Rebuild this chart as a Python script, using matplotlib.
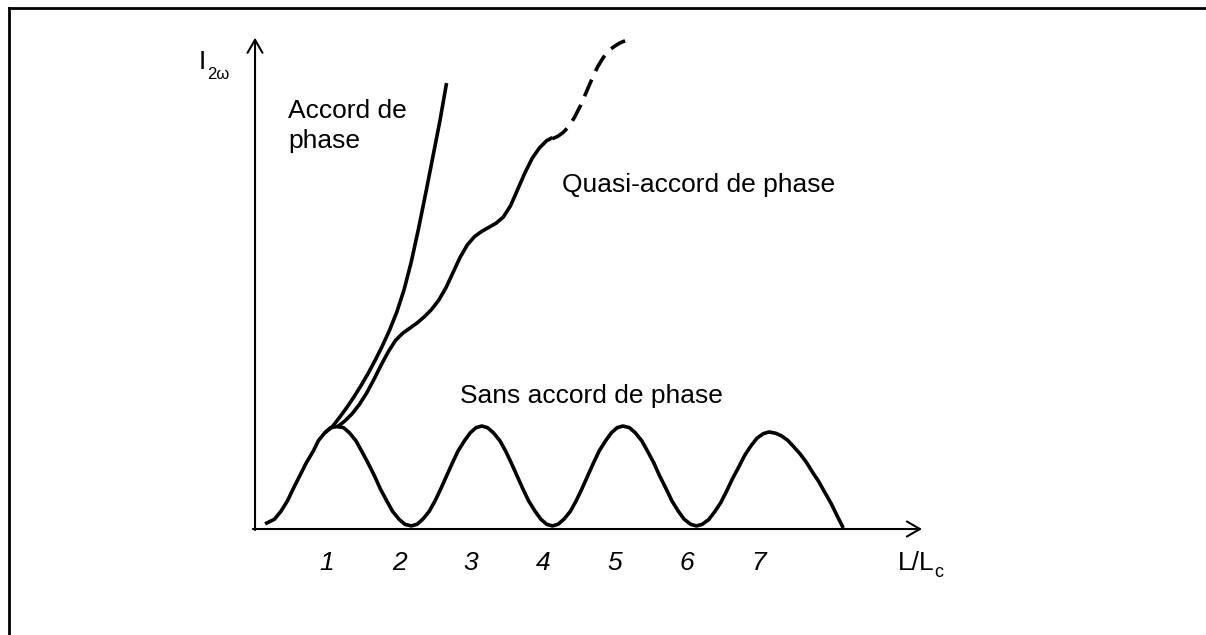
import matplotlib
matplotlib.use('Agg')
import matplotlib.pyplot as plt
from matplotlib.lines import Line2D

# ---------------- data ----------------
# Non phase-matched ("Sans accord de phase") oscillation
sinc_x = [0.14, 0.27, 0.36, 0.45, 0.53, 0.62, 0.71, 0.81, 0.88, 0.97, 1.05, 1.14,
          1.23, 1.31, 1.40, 1.48, 1.57, 1.66, 1.74, 1.83, 1.91, 2.00, 2.08, 2.17,
          2.25, 2.33, 2.42, 2.50, 2.58, 2.66, 2.74, 2.82, 2.91, 2.99, 3.07, 3.15,
          3.23, 3.31, 3.40, 3.48, 3.56, 3.64, 3.72, 3.80, 3.89, 3.97, 4.05, 4.13,
          4.21, 4.29, 4.38, 4.46, 4.54, 4.62, 4.70, 4.78, 4.87, 4.95, 5.03, 5.11,
          5.20, 5.28, 5.37, 5.45, 5.54, 5.62, 5.71, 5.79, 5.88, 5.96, 6.05, 6.13,
          6.21, 6.30, 6.38, 6.47, 6.55, 6.63, 6.72, 6.80, 6.89, 6.97, 7.06, 7.14,
          7.23, 7.31, 7.40, 7.48, 7.57, 7.66, 7.74, 7.83, 7.91, 8.00, 8.08, 8.17]
sinc_y = [0.05, 0.095, 0.172, 0.273, 0.39, 0.515, 0.64, 0.758, 0.858, 0.935, 0.984, 0.995,
          0.984, 0.935, 0.858, 0.758, 0.64, 0.515, 0.39, 0.273, 0.172, 0.095, 0.046, 0.03,
          0.046, 0.095, 0.172, 0.273, 0.39, 0.515, 0.64, 0.758, 0.858, 0.935, 0.984, 1.0,
          0.984, 0.935, 0.858, 0.758, 0.64, 0.515, 0.39, 0.273, 0.172, 0.095, 0.046, 0.03,
          0.046, 0.095, 0.172, 0.273, 0.39, 0.515, 0.64, 0.758, 0.858, 0.935, 0.984, 1.0,
          0.984, 0.935, 0.858, 0.758, 0.64, 0.515, 0.39, 0.273, 0.172, 0.095, 0.046, 0.03,
          0.045, 0.091, 0.163, 0.258, 0.368, 0.486, 0.604, 0.714, 0.809, 0.881, 0.926, 0.942,
          0.93, 0.905, 0.86, 0.80, 0.73, 0.645, 0.555, 0.46, 0.36, 0.25, 0.135, 0.01]

# Phase matched ("Accord de phase")
pm_x = [0.97, 1.07, 1.17, 1.27, 1.37, 1.47, 1.57, 1.67, 1.77, 1.87,
        1.97, 2.07, 2.17, 2.27, 2.37, 2.47, 2.57, 2.66]
pm_y = [0.935, 0.99, 1.08, 1.175, 1.278, 1.39, 1.51, 1.64, 1.78, 1.933,
        2.108, 2.323, 2.593, 2.913, 3.258, 3.613, 3.97, 4.33]

# Quasi phase matched ("Quasi-accord de phase"), solid part
qpm_x = [1.14, 1.25, 1.35, 1.45, 1.55, 1.65, 1.75, 1.85, 1.95, 2.05, 2.15,
         2.25, 2.35, 2.45, 2.55, 2.65, 2.75, 2.85, 2.95, 3.05, 3.15,
         3.25, 3.35, 3.45, 3.55, 3.65, 3.75, 3.85, 3.95, 4.05, 4.13]
qpm_y = [0.99, 1.05, 1.12, 1.21, 1.32, 1.45, 1.59, 1.72, 1.83, 1.90, 1.95,
         2.00, 2.06, 2.13, 2.22, 2.34, 2.49, 2.64, 2.76, 2.84, 2.89,
         2.93, 2.97, 3.03, 3.14, 3.30, 3.46, 3.60, 3.70, 3.77, 3.80]
# dashed continuation
qpm_dash_x = [4.13, 4.20, 4.28, 4.36, 4.44, 4.52, 4.60, 4.68, 4.76, 4.84, 4.92, 5.00, 5.07, 5.14]
qpm_dash_y = [3.79, 3.81, 3.85, 3.91, 4.00, 4.11, 4.24, 4.37, 4.49, 4.58, 4.65, 4.69, 4.72, 4.74]

tick_values = [1, 2, 3, 4, 5, 6, 7]
tick_labels = ['1', '2', '3', '4', '5', '6', '7']

# ---------------- figure ----------------
plt.rcParams['font.family'] = ['Liberation Sans', 'DejaVu Sans']

fig = plt.figure(figsize=(12.06, 6.35), dpi=100)
ax = fig.add_axes([0, 0, 1, 1])
ax.set_xlim(-3.542, 13.208)
ax.set_ylim(-1.029, 5.136)
ax.axis('off')

# frame around the figure (left and top edges visible)
fig.add_artist(Line2D([8.5 / 1206, 8.5 / 1206], [0, 1 - 7.5 / 635],
                      transform=fig.transFigure, lw=2.0, color='black'))
fig.add_artist(Line2D([8.5 / 1206, 1], [1 - 7.5 / 635, 1 - 7.5 / 635],
                      transform=fig.transFigure, lw=2.0, color='black'))

# axes arrows
arrow_kw = dict(arrowstyle='->,head_length=0.47,head_width=0.27', lw=1.5,
                color='black', shrinkA=0, shrinkB=0, mutation_scale=20)
ax.annotate('', xy=(9.264, 0), xytext=(-0.03, 0), arrowprops=arrow_kw)
ax.annotate('', xy=(0, 4.77), xytext=(0, -0.01), arrowprops=arrow_kw)

lw = 2.6
style = dict(color='black', lw=lw, solid_joinstyle='round', solid_capstyle='butt')
ax.plot(sinc_x, sinc_y, **style)
ax.plot(pm_x, pm_y, **style)
ax.plot(qpm_x, qpm_y, **style)
ax.plot(qpm_dash_x, qpm_dash_y, color='black', lw=lw, dashes=(5.0, 2.6),
        dash_capstyle='butt', dash_joinstyle='round')

fs = 19
for v, lab in zip(tick_values, tick_labels):
    ax.text(v, -0.40, lab, fontsize=fs, style='italic', ha='center', va='baseline')

ax.text(8.93, -0.40, 'L/L', fontsize=fs, ha='left', va='baseline')
ax.text(9.43, -0.47, 'c', fontsize=13, ha='left', va='baseline')

ax.text(-0.78, 4.47, 'I', fontsize=fs, ha='left', va='baseline')
ax.text(-0.665, 4.37, '2ω', fontsize=12, ha='left', va='baseline')

ax.text(0.458, 3.99, 'Accord de', fontsize=fs, ha='left', va='baseline')
ax.text(0.458, 3.70, 'phase', fontsize=fs, ha='left', va='baseline')
ax.text(4.264, 3.272, 'Quasi-accord de phase', fontsize=fs, ha='left', va='baseline')
ax.text(2.847, 1.223, 'Sans accord de phase', fontsize=fs, ha='left', va='baseline')

fig.savefig('out.png', dpi=100)
